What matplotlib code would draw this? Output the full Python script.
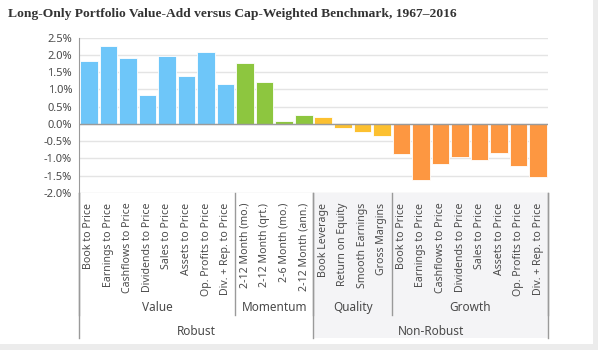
import matplotlib
matplotlib.use('Agg')
import matplotlib.pyplot as plt
from matplotlib.patches import Rectangle
import numpy as np

labels = ['Book to Price', 'Earnings to Price', 'Cashflows to Price', 'Dividends to Price',
          'Sales to Price', 'Assets to Price', 'Op. Profits to Price', 'Div. + Rep. to Price',
          '2-12 Month (mo.)', '2-12 Month (qrt.)', '2-6 Month (mo.)', '2-12 Month (ann.)',
          'Book Leverage', 'Return on Equity', 'Smooth Earnings', 'Gross Margins',
          'Book to Price', 'Earnings to Price', 'Cashflows to Price', 'Dividends to Price',
          'Sales to Price', 'Assets to Price', 'Op. Profits to Price', 'Div. + Rep. to Price']
values = [1.83, 2.26, 1.90, 0.84, 1.97, 1.39, 2.09, 1.17,
          1.77, 1.22, 0.08, 0.26,
          0.19, -0.11, -0.23, -0.35,
          -0.87, -1.62, -1.15, -0.96, -1.05, -0.84, -1.23, -1.53]

groups = ['Value', 'Momentum', 'Quality', 'Growth']
group_sizes = [8, 4, 4, 8]
group_colors = ['#6ec6f9', '#8dc63f', '#fcc030', '#fd9741']
supergroups = ['Robust', 'Non-Robust']
supergroup_sizes = [12, 12]

yticks = [-2.0, -1.5, -1.0, -0.5, 0.0, 0.5, 1.0, 1.5, 2.0, 2.5]

colors = []
for c, n in zip(group_colors, group_sizes):
    colors += [c] * n

font = ['Noto Sans', 'DejaVu Sans']
txt = '#4a4a4a'

fig = plt.figure(figsize=(5.98, 3.5), dpi=100)

# card shadow on the right and bottom edges
fig.patches.append(Rectangle((593/598, 0), 5/598, 1, transform=fig.transFigure,
                             facecolor='#ececec', edgecolor='none'))
fig.patches.append(Rectangle((0, 0), 1, 6/350, transform=fig.transFigure,
                             facecolor='#ececec', edgecolor='none'))

ax = fig.add_axes([79/598, 1 - 193/350, (548-79)/598, (193-37.7)/350])

x = np.arange(len(values))
ax.bar(x, values, width=0.9, color=colors, edgecolor='white', linewidth=0.6, zorder=3)
ax.set_xlim(-0.5, len(values) - 0.5)
ax.set_ylim(-2.0, 2.5)

ax.set_yticks(yticks)
ax.set_yticklabels(['%.1f%%' % v for v in yticks], fontsize=8, color=txt, family=font)
ax.yaxis.grid(True, color='#e4e4e4', linewidth=1.0, zorder=0)
ax.axhline(0, color='#9a9a9a', linewidth=1.0, zorder=4)
ax.tick_params(axis='y', length=0, pad=5)

ax.set_xticks(x)
ax.set_xticklabels(labels, rotation=90, fontsize=7.6, color=txt, family=font, va='top')
ax.tick_params(axis='x', length=0, pad=7)

for s in ['top', 'right', 'bottom']:
    ax.spines[s].set_visible(False)
ax.spines['left'].set_color('#9a9a9a')

tr = ax.get_xaxis_transform()
h = 193 - 37.7
y_low = -(315 - 193) / h
y_bot = -(338 - 193) / h

# grey background under the Non-Robust block
start = supergroup_sizes[0] - 0.5
ax.add_patch(Rectangle((start, y_bot), len(values) - 0.5 - start, -y_bot, transform=tr,
                       facecolor='#f4f4f6', edgecolor='none', clip_on=False, zorder=0))

# group labels and separators
pos = -0.5
for g, n in zip(groups, group_sizes):
    ax.text(pos + n / 2, -(308 - 193) / h, g, transform=tr, ha='center', va='center',
            fontsize=8.5, color=txt, family=font)
    ax.plot([pos, pos], [0, y_low], transform=tr, color='#9a9a9a', lw=1.0, clip_on=False)
    pos += n
ax.plot([pos, pos], [0, y_low], transform=tr, color='#9a9a9a', lw=1.0, clip_on=False)

pos = -0.5
for g, n in zip(supergroups, supergroup_sizes):
    ax.text(pos + n / 2, -(332 - 193) / h, g, transform=tr, ha='center', va='center',
            fontsize=8.5, color=txt, family=font)
    ax.plot([pos, pos], [0, y_bot], transform=tr, color='#9a9a9a', lw=1.0, clip_on=False)
    pos += n
ax.plot([pos, pos], [0, y_bot], transform=tr, color='#9a9a9a', lw=1.0, clip_on=False)

fig.text(8/598, 1 - 14/350, 'Long-Only Portfolio Value-Add versus Cap-Weighted Benchmark, 1967\u20132016',
         fontsize=9.7, fontweight='bold', family='Liberation Serif', color='#333333', va='center')

fig.savefig('out.png', dpi=100)
